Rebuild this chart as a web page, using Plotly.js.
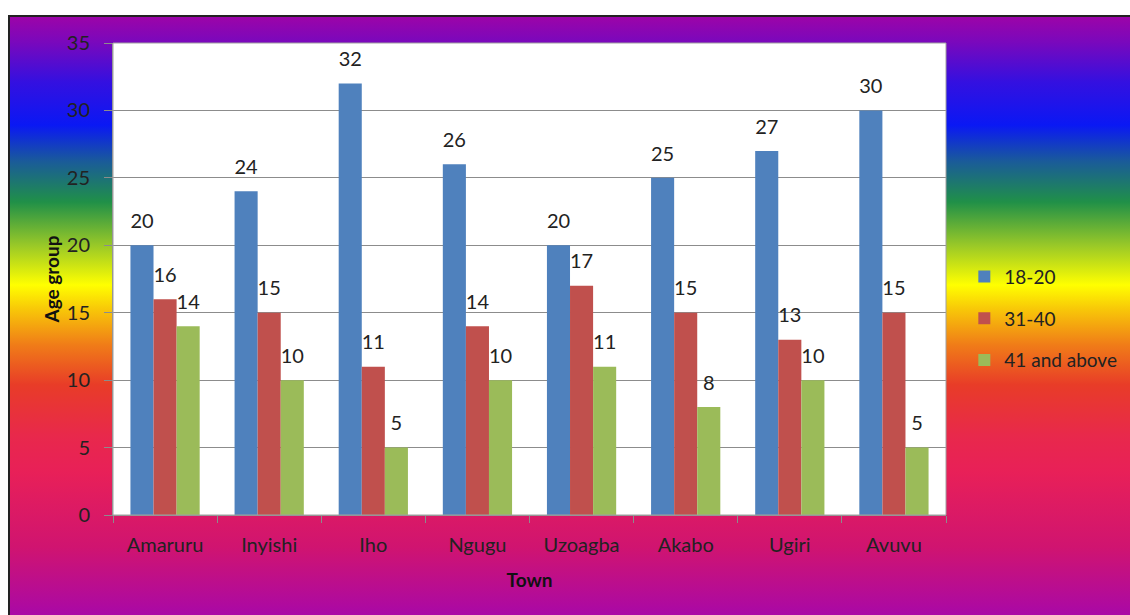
<!DOCTYPE html>
<html>
<head>
<meta charset="utf-8">
<script src="https://cdn.plot.ly/plotly-3.0.1.min.js"></script>
<style>
  html, body { margin: 0; padding: 0; background: #ffffff; overflow: hidden; }
  #bg {
    position: absolute; left: 8px; top: 15px; width: 1122px; height: 600px;
    border-left: 2px solid #222; border-top: 2px solid #222;
    box-sizing: border-box;
    background: linear-gradient(to bottom,
      #9c04a8 0px, #7a08bc 25px, #3410e0 65px, #0a18f4 108px,
      #1a5c98 145px, #209048 185px, #98c828 228px, #ffff00 268px,
      #f8c808 292px, #f07c18 328px, #e83c28 368px, #e8284c 420px,
      #e82058 455px, #d01470 530px, #a808a8 600px);
  }
  #chart { position: absolute; left: 0; top: 0; width: 1130px; height: 615px; }
</style>
</head>
<body>
<div id="bg"></div>
<div id="chart"></div>
<script>
const towns = ["Amaruru", "Inyishi", "Iho", "Ngugu", "Uzoagba", "Akabo", "Ugiri", "Avuvu"];
const seriesNames = ["18-20", "31-40", "41 and above"];
const age18to20 = [20, 24, 32, 26, 20, 25, 27, 30];
const age31to40 = [16, 15, 11, 14, 17, 15, 13, 15];
const age41plus = [14, 10, 5, 10, 11, 8, 10, 5];
const yTicks = [0, 5, 10, 15, 20, 25, 30, 35];

const colors = ["#4F81BD", "#C0504D", "#9BBB59"];
const values = [age18to20, age31to40, age41plus];
const FONT = "Lato, 'Open Sans', sans-serif";
const GAP = 0.335;

const bars = values.map((v, i) => ({
  type: "bar",
  name: seriesNames[i],
  x: towns,
  y: v,
  marker: { color: colors[i], line: { width: 0 } },
  legendgroup: "g" + i,
  hoverinfo: "x+y+name"
}));

const labels = values.map((v, i) => ({
  type: "scatter",
  mode: "markers+text",
  x: towns,
  y: v,
  text: v.map(String),
  textposition: "top center",
  textfont: { family: FONT, size: 20, color: "#222222" },
  marker: { size: 18, color: "rgba(0,0,0,0)" },
  cliponaxis: false,
  showlegend: false,
  hoverinfo: "skip"
}));

const layout = {
  width: 1130,
  height: 615,
  margin: { l: 113, r: 184, t: 43, b: 100, autoexpand: false },
  paper_bgcolor: "rgba(0,0,0,0)",
  plot_bgcolor: "#ffffff",
  barmode: "group",
  bargap: GAP,
  bargroupgap: 0,
  scattermode: "group",
  scattergap: GAP,
  font: { family: FONT, size: 20, color: "#222222" },
  showlegend: true,
  legend: {
    x: 1.022, xanchor: "left",
    y: 0.545, yanchor: "top",
    bgcolor: "rgba(0,0,0,0)",
    font: { family: FONT, size: 19, color: "#222222" },
    tracegroupgap: 14,
    itemwidth: 30
  },
  xaxis: {
    type: "category",
    tickson: "boundaries",
    ticks: "outside",
    ticklen: 7,
    tickcolor: "#8c8c8c",
    showline: true,
    linecolor: "#8c8c8c",
    linewidth: 1,
    showgrid: false,
    ticklabelstandoff: 12,
    tickfont: { family: FONT, size: 20, color: "#222222" },
    title: { text: "<b>Town</b>", font: { family: FONT, size: 19, color: "#111111" }, standoff: 18 }
  },
  yaxis: {
    range: [0, 35],
    tickvals: yTicks,
    ticktext: yTicks.map(String),
    ticks: "outside",
    ticklen: 8,
    tickcolor: "#8c8c8c",
    showline: true,
    linecolor: "#8c8c8c",
    linewidth: 1,
    showgrid: true,
    gridcolor: "#8c8c8c",
    gridwidth: 1,
    zeroline: false,
    ticklabelstandoff: 10,
    tickfont: { family: FONT, size: 20, color: "#222222" },
    title: { text: "<b>Age group</b>", font: { family: FONT, size: 19, color: "#111111" }, standoff: 2 }
  },
  shapes: [{
    type: "rect", xref: "paper", yref: "paper", x0: 0, x1: 1, y0: 0, y1: 1,
    line: { color: "#a0a0a0", width: 1 }, fillcolor: "rgba(0,0,0,0)", layer: "above"
  }]
};

Plotly.newPlot("chart", bars.concat(labels), layout, { displayModeBar: false, staticPlot: true });
</script>
</body>
</html>
